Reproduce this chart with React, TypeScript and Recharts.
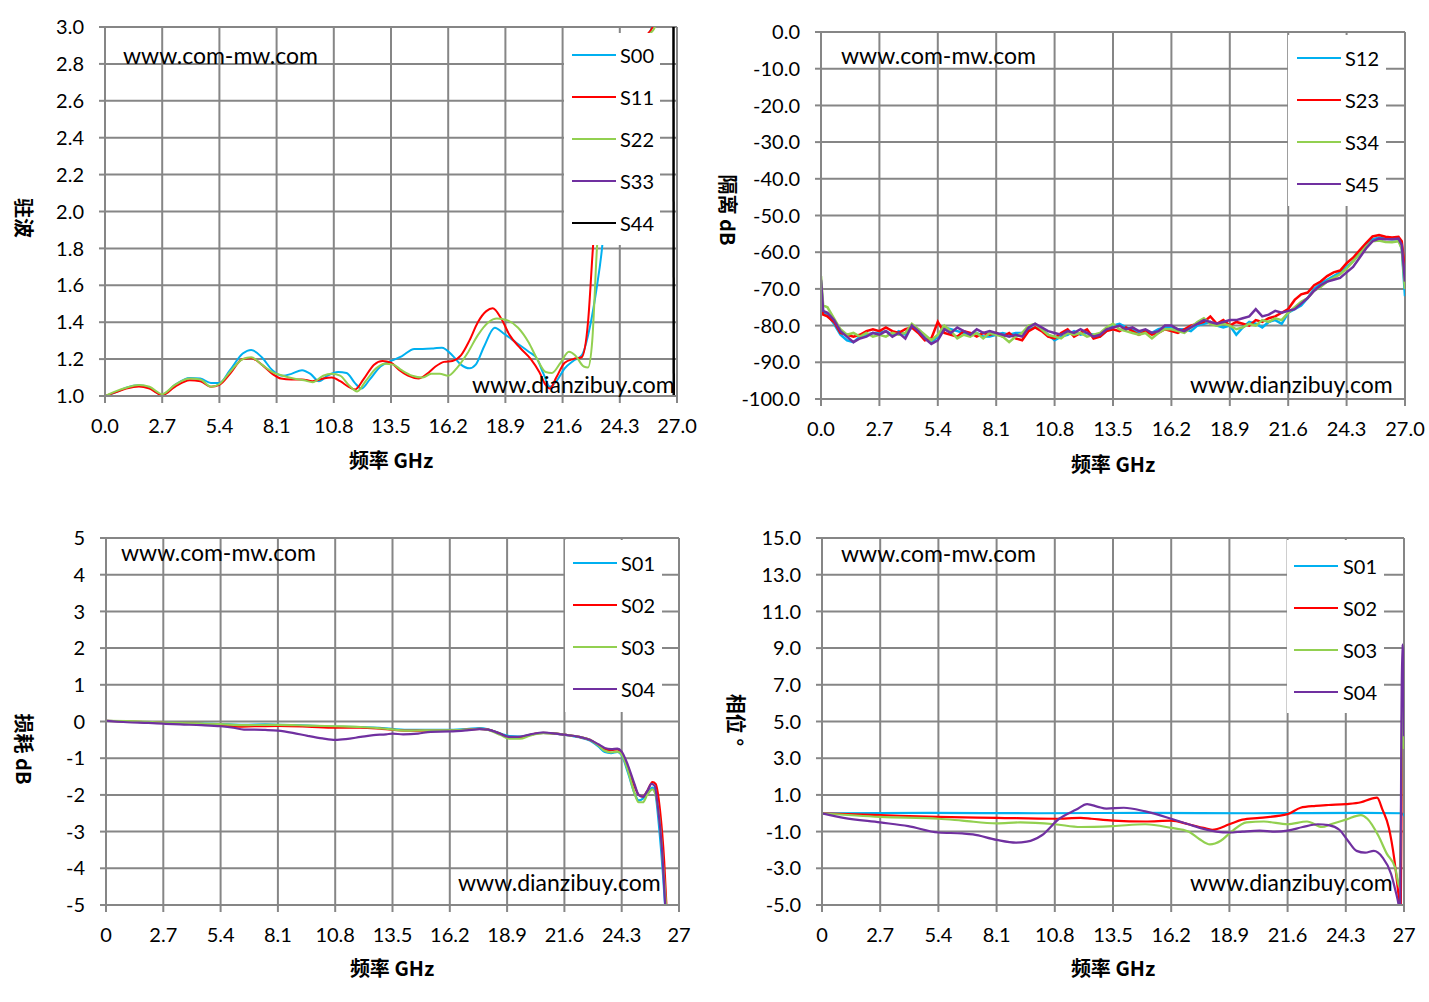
import React from 'react';
import { LineChart, Line, XAxis, YAxis, CartesianGrid, Legend } from 'recharts';

const FONT = 'Lato, "Noto Sans", sans-serif';
const CJK = '"Noto Sans CJK SC", Lato, sans-serif';
const GRID = '#868686';

const BLUE = '#00B0F0';
const RED = '#FF0000';
const GREEN = '#92D050';
const PURPLE = '#7030A0';
const BLACK = '#000000';

// axis ticks
const freqTicks = [0, 2.7, 5.4, 8.1, 10.8, 13.5, 16.2, 18.9, 21.6, 24.3, 27];
const vswrTicks = [1.0, 1.2, 1.4, 1.6, 1.8, 2.0, 2.2, 2.4, 2.6, 2.8, 3.0];
const isoTicks = [-100, -90, -80, -70, -60, -50, -40, -30, -20, -10, 0];
const lossTicks = [-5, -4, -3, -2, -1, 0, 1, 2, 3, 4, 5];
const phaseTicks = [-5, -3, -1, 1, 3, 5, 7, 9, 11, 13, 15];

// panel 1: VSWR, [GHz, value]
const vswrS00 = [[0, 1.0], [0.5, 1.02], [1.0, 1.045], [1.6, 1.058], [2.1, 1.045], [2.7, 1.005], [3.3, 1.06], [4.0, 1.098], [4.5, 1.095], [5.0, 1.07], [5.4, 1.07], [5.9, 1.14], [6.5, 1.23], [6.9, 1.25], [7.4, 1.21], [7.9, 1.14], [8.4, 1.11], [8.8, 1.12], [9.3, 1.14], [9.7, 1.12], [10.1, 1.08], [10.5, 1.11], [11.0, 1.13], [11.4, 1.125], [11.8, 1.07], [12.1, 1.04], [12.5, 1.09], [13.0, 1.16], [13.5, 1.19], [14.0, 1.215], [14.6, 1.255], [15.0, 1.255], [15.5, 1.258], [15.9, 1.262], [16.4, 1.22], [16.8, 1.17], [17.2, 1.15], [17.5, 1.17], [17.9, 1.27], [18.4, 1.37], [18.8, 1.34], [19.4, 1.29], [20.0, 1.24], [20.4, 1.2], [20.7, 1.12], [21.0, 1.05], [21.3, 1.08], [21.7, 1.15], [22.1, 1.19], [22.5, 1.22], [22.9, 1.38], [23.2, 1.58], [23.46, 1.8], [23.8, 2.3], [24.3, 2.65], [25.0, 2.85], [25.5, 2.94], [25.82, 3.0], [26.0, 3.5]];
const vswrS11 = [[0, 1.0], [0.5, 1.02], [1.0, 1.04], [1.6, 1.052], [2.1, 1.04], [2.7, 1.005], [3.3, 1.05], [4.0, 1.085], [4.5, 1.08], [5.0, 1.05], [5.4, 1.06], [5.9, 1.12], [6.5, 1.2], [6.9, 1.205], [7.4, 1.17], [7.9, 1.12], [8.3, 1.095], [8.8, 1.09], [9.3, 1.09], [9.8, 1.08], [10.3, 1.095], [10.7, 1.1], [11.1, 1.08], [11.5, 1.05], [11.8, 1.035], [12.2, 1.09], [12.7, 1.17], [13.1, 1.19], [13.5, 1.18], [13.9, 1.14], [14.3, 1.11], [14.8, 1.095], [15.2, 1.12], [15.6, 1.16], [16.0, 1.185], [16.4, 1.19], [16.8, 1.22], [17.2, 1.3], [17.6, 1.4], [18.0, 1.46], [18.3, 1.475], [18.7, 1.42], [19.1, 1.33], [19.6, 1.26], [20.1, 1.2], [20.5, 1.13], [20.8, 1.06], [21.0, 1.04], [21.3, 1.1], [21.7, 1.18], [22.1, 1.2], [22.5, 1.21], [22.8, 1.4], [23.03, 1.8], [23.4, 2.35], [24.0, 2.68], [24.8, 2.86], [25.5, 2.95], [25.85, 3.0], [26.0, 3.5]];
const vswrS22 = [[0, 1.0], [0.5, 1.025], [1.0, 1.045], [1.6, 1.06], [2.1, 1.05], [2.7, 1.01], [3.3, 1.06], [4.0, 1.095], [4.5, 1.09], [5.0, 1.05], [5.4, 1.065], [5.9, 1.13], [6.5, 1.2], [6.9, 1.21], [7.4, 1.17], [7.9, 1.13], [8.4, 1.11], [8.9, 1.095], [9.4, 1.085], [9.8, 1.075], [10.3, 1.11], [10.7, 1.12], [11.1, 1.11], [11.5, 1.06], [11.9, 1.025], [12.3, 1.08], [12.8, 1.15], [13.2, 1.175], [13.6, 1.17], [14.0, 1.14], [14.5, 1.11], [15.0, 1.1], [15.4, 1.12], [15.8, 1.12], [16.2, 1.11], [16.6, 1.15], [17.1, 1.23], [17.6, 1.33], [18.1, 1.4], [18.5, 1.42], [19.0, 1.41], [19.5, 1.37], [20.0, 1.29], [20.4, 1.2], [20.8, 1.13], [21.1, 1.125], [21.5, 1.18], [21.9, 1.24], [22.2, 1.22], [22.6, 1.16], [22.8, 1.155], [23.0, 1.3], [23.22, 1.8], [23.6, 2.33], [24.2, 2.66], [25.0, 2.86], [25.6, 2.95], [25.96, 3.0], [26.1, 3.5]];
const vswrS33: number[][] = [];
const vswrS44 = [[26.83, 3.6], [26.85, 0.4]];

// panel 2: isolation dB, shared frequency grid
const isoFreq = [0, 0.1, 0.3, 0.6, 0.9, 1.2, 1.5, 1.8, 2.1, 2.4, 2.7, 3.0, 3.3, 3.6, 3.9, 4.2, 4.5, 4.8, 5.1, 5.4, 5.7, 6.0, 6.3, 6.6, 6.9, 7.2, 7.5, 7.8, 8.1, 8.4, 8.7, 9.0, 9.3, 9.6, 9.9, 10.2, 10.5, 10.8, 11.1, 11.4, 11.7, 12.0, 12.3, 12.6, 12.9, 13.2, 13.5, 13.8, 14.1, 14.4, 14.7, 15.0, 15.3, 15.6, 15.9, 16.2, 16.5, 16.8, 17.1, 17.4, 17.7, 18.0, 18.3, 18.6, 18.9, 19.2, 19.5, 19.8, 20.1, 20.4, 20.7, 21.0, 21.3, 21.6, 21.9, 22.2, 22.5, 22.8, 23.1, 23.4, 23.7, 24.0, 24.3, 24.6, 24.9, 25.2, 25.5, 25.8, 26.1, 26.4, 26.7, 26.85, 27.0];
const isoS12 = [-68, -76.5, -77, -79.5, -82.5, -84, -84.5, -83, -82.5, -82, -82, -81.5, -82.5, -81.5, -82.5, -80.5, -81, -83, -84.5, -83, -80.5, -81, -81.5, -82, -82.5, -82, -83, -83, -82.5, -82, -82.5, -82, -82, -81, -80.5, -81, -82.5, -84, -83, -82.5, -81.5, -82.5, -82, -82.5, -83, -81.5, -80, -79.5, -80.5, -81, -82, -81.5, -82, -81, -80.5, -80.5, -81, -81, -81.5, -80, -79.5, -79, -80, -80.5, -80, -82.5, -80.5, -79, -79.5, -80.5, -79, -78.5, -79.5, -76.5, -75.5, -74.5, -72.5, -70, -68.5, -67.5, -66.5, -65.5, -64, -62.5, -60, -58, -56.5, -56, -56.3, -56.5, -56.4, -59, -72];
const isoS23 = [-70, -77, -77.5, -79, -82, -82.5, -83, -82.5, -81.5, -81, -81.5, -80.5, -81.5, -82, -81, -80.5, -82, -84, -83.5, -79, -82, -82.5, -83, -81.5, -82, -83, -82, -82.5, -82, -83, -82, -83.5, -84, -81.5, -80.5, -81.5, -83, -83.5, -82, -81, -83, -82, -81, -83.5, -83, -81.5, -81, -81.5, -80.5, -81.5, -82.5, -81.5, -82.5, -82, -81, -81.5, -82, -81, -80, -79.5, -79, -77.5, -79.5, -78.5, -80, -79, -79.5, -80, -78.5, -79, -78, -77.5, -76.5, -75.5, -73, -71.5, -71, -69, -68, -66.5, -65.5, -65, -63, -61.5, -59.5, -57.5, -55.7, -55.3, -55.8, -56, -55.8, -57, -65];
const isoS34 = [-66.5, -74.5, -75, -78, -81, -82.5, -82, -83, -82, -83, -82.5, -83, -82, -82.5, -82, -79.5, -81, -82.5, -84, -82.5, -80, -81.5, -83.5, -82.5, -83, -82, -83.5, -82, -82.5, -83, -84.5, -83, -82, -80, -79.5, -81, -82.5, -83, -83.5, -82, -82.5, -82, -83, -82.5, -82, -80.5, -79.5, -81, -81.5, -82, -82.5, -82, -83.5, -82, -81, -81, -81.5, -82, -80.5, -79, -78, -79.5, -80, -79.5, -80, -81, -80.5, -79.5, -80, -78.5, -79, -78, -78.5, -76.5, -75, -73.5, -72.5, -70.5, -69.5, -68, -67, -66, -64.5, -62.5, -60.5, -58.5, -57, -56.8, -57.2, -57.3, -57, -59, -70];
const isoS45 = [-67.5, -76, -76.5, -78.5, -81.5, -83, -84.5, -83.5, -83, -82, -82.5, -81.5, -83, -82, -83.5, -80, -81.5, -83.5, -85, -84, -81, -82, -80.5, -81.5, -82.5, -81, -82, -81.5, -82, -82.5, -83, -82.5, -83, -80.5, -79.5, -80.5, -81.5, -82, -82.5, -81.5, -82, -81, -82, -83, -82.5, -81, -80.5, -80, -81, -80.5, -81.5, -81, -82, -81.5, -80, -80, -81, -81.5, -80.5, -79.5, -78.5, -79, -79.5, -79, -78.5, -78.5, -78, -77.5, -75.5, -77.5, -77, -76, -76.5, -76, -75.5, -74, -72.5, -70.5, -69, -68, -67.5, -67, -65.5, -64, -61.5, -59, -57, -56.3, -56.5, -56.5, -56.3, -58, -68];

// panel 3: insertion loss dB
const lossS01 = [[0, 0.02], [1.0, 0], [2.7, -0.04], [4.0, -0.05], [5.4, -0.07], [6.5, -0.09], [7.5, -0.08], [8.1, -0.09], [9.5, -0.11], [10.8, -0.14], [12.0, -0.15], [13.0, -0.18], [14.2, -0.23], [15.0, -0.23], [16.2, -0.23], [17.0, -0.21], [17.6, -0.18], [18.0, -0.21], [18.6, -0.33], [19.0, -0.4], [19.5, -0.41], [20.0, -0.36], [20.6, -0.31], [21.2, -0.33], [21.6, -0.36], [22.3, -0.43], [22.8, -0.52], [23.2, -0.68], [23.5, -0.83], [23.8, -0.86], [24.1, -0.83], [24.3, -0.92], [24.6, -1.4], [24.9, -1.95], [25.1, -2.15], [25.3, -2.1], [25.5, -1.95], [25.75, -1.8], [25.9, -2.0], [26.05, -2.8], [26.25, -4.2], [26.4, -5.5]];
const lossS02 = [[0, 0.02], [1.0, 0], [2.7, -0.04], [4.0, -0.06], [5.4, -0.1], [6.2, -0.14], [7.0, -0.13], [8.1, -0.12], [9.5, -0.14], [10.8, -0.17], [12.0, -0.17], [13.0, -0.2], [14.2, -0.25], [15.0, -0.25], [16.2, -0.25], [17.0, -0.22], [17.6, -0.2], [18.0, -0.22], [18.6, -0.34], [19.0, -0.43], [19.5, -0.43], [20.0, -0.36], [20.6, -0.31], [21.2, -0.33], [21.6, -0.36], [22.3, -0.42], [22.8, -0.5], [23.2, -0.64], [23.5, -0.76], [23.8, -0.78], [24.1, -0.76], [24.3, -0.85], [24.6, -1.25], [24.9, -1.75], [25.1, -2.0], [25.3, -2.05], [25.5, -1.9], [25.75, -1.65], [25.9, -1.7], [26.1, -2.4], [26.3, -3.8], [26.45, -5.5]];
const lossS03 = [[0, 0.02], [1.0, 0.01], [2.7, -0.03], [4.0, -0.05], [5.4, -0.07], [6.5, -0.1], [7.5, -0.09], [8.1, -0.09], [9.5, -0.11], [10.8, -0.13], [12.0, -0.15], [13.0, -0.19], [14.2, -0.25], [15.0, -0.24], [16.2, -0.24], [17.0, -0.22], [17.6, -0.2], [18.0, -0.23], [18.6, -0.37], [19.0, -0.47], [19.5, -0.47], [20.0, -0.38], [20.6, -0.32], [21.2, -0.33], [21.6, -0.36], [22.3, -0.42], [22.8, -0.5], [23.2, -0.65], [23.5, -0.8], [23.8, -0.84], [24.1, -0.82], [24.3, -0.9], [24.6, -1.35], [24.9, -1.95], [25.1, -2.2], [25.3, -2.2], [25.5, -2.0], [25.75, -1.85], [25.9, -2.0], [26.1, -2.8], [26.3, -4.3], [26.45, -5.5]];
const lossS04 = [[0, 0.02], [1.0, -0.02], [2.0, -0.04], [2.7, -0.06], [3.5, -0.08], [4.5, -0.1], [5.4, -0.13], [6.0, -0.17], [6.5, -0.22], [7.0, -0.22], [7.5, -0.23], [8.1, -0.25], [8.8, -0.31], [9.5, -0.39], [10.2, -0.46], [10.8, -0.5], [11.3, -0.48], [12.0, -0.42], [12.6, -0.37], [13.2, -0.35], [13.5, -0.33], [14.0, -0.35], [14.7, -0.33], [15.3, -0.28], [16.2, -0.27], [17.0, -0.24], [17.6, -0.21], [18.0, -0.22], [18.5, -0.32], [19.0, -0.42], [19.4, -0.42], [20.0, -0.35], [20.6, -0.3], [21.2, -0.33], [21.6, -0.36], [22.3, -0.42], [22.8, -0.5], [23.2, -0.62], [23.5, -0.72], [23.8, -0.75], [24.1, -0.74], [24.3, -0.82], [24.6, -1.2], [24.9, -1.7], [25.1, -2.0], [25.3, -2.05], [25.5, -1.9], [25.7, -1.7], [25.85, -1.75], [26.0, -2.3], [26.2, -3.5], [26.35, -5.0], [26.45, -6.0]];

// panel 4: phase degrees
const phaseS01 = [[0, 0], [5.0, 0.02], [10.0, 0], [15.0, 0.02], [20.0, 0], [25.0, 0.02], [26.9, 0], [27.0, -0.15]];
const phaseS02 = [[0, 0], [2.7, -0.1], [5.4, -0.2], [8.1, -0.25], [10.8, -0.3], [12.0, -0.25], [12.5, -0.3], [13.5, -0.4], [15.0, -0.45], [16.2, -0.4], [17.0, -0.6], [17.7, -0.8], [18.1, -0.9], [18.9, -0.6], [19.5, -0.35], [20.3, -0.25], [21.6, -0.05], [22.2, 0.3], [22.9, 0.4], [23.5, 0.45], [24.3, 0.5], [25.0, 0.6], [25.5, 0.8], [25.75, 0.85], [26.0, 0.2], [26.3, -0.8], [26.55, -2.5], [26.75, -4.5], [26.85, -5.5], [26.9, 3.0], [26.95, 8.2], [27.0, 6.0]];
const phaseS03 = [[0, 0], [2.7, -0.2], [5.4, -0.3], [6.5, -0.4], [8.1, -0.55], [9.2, -0.5], [10.8, -0.6], [12.0, -0.75], [13.5, -0.7], [15.0, -0.6], [16.2, -0.8], [17.0, -1.0], [17.5, -1.4], [18.0, -1.7], [18.5, -1.5], [19.0, -1.0], [19.7, -0.5], [20.5, -0.45], [21.6, -0.6], [22.5, -0.45], [23.2, -0.75], [23.6, -0.6], [24.3, -0.35], [25.0, -0.1], [25.3, -0.3], [25.8, -1.2], [26.2, -2.2], [26.6, -3.0], [26.78, -4.0], [26.86, 0], [26.93, 6.2], [27.0, 3.5]];
const phaseS04 = [[0, 0], [1.0, -0.25], [2.7, -0.5], [4.0, -0.7], [5.4, -1.05], [6.5, -1.1], [7.0, -1.15], [8.1, -1.45], [9.0, -1.6], [9.5, -1.55], [10.2, -1.2], [11.0, -0.3], [11.8, 0.2], [12.3, 0.5], [12.8, 0.35], [13.2, 0.25], [14.0, 0.3], [15.0, 0.1], [16.2, -0.3], [17.0, -0.6], [17.7, -0.85], [18.3, -1.0], [18.9, -1.05], [19.5, -1.0], [20.3, -0.95], [21.0, -1.0], [21.6, -0.95], [22.3, -0.75], [23.0, -0.6], [23.5, -0.65], [24.0, -0.9], [24.4, -1.5], [24.8, -2.05], [25.2, -2.15], [25.6, -2.05], [26.0, -2.4], [26.4, -3.3], [26.6, -4.2], [26.75, -5.0], [26.82, -5.6], [26.88, 5.0], [26.92, 9.2], [26.97, 8.5], [27.0, 4.2]];

type Pair = number[];
const pts = (pairs: Pair[]) => pairs.map(([f, v]) => ({ f, v }));

const isoTable = isoFreq.map((f, i) => ({ f, S12: isoS12[i], S23: isoS23[i], S34: isoS34[i], S45: isoS45[i] }));

const tickStyle = { fill: '#000', fontSize: 20, fontFamily: FONT };
const one = (v: number) => v.toFixed(1);
const plain = (v: number) => String(v);

interface LegendCfg {
  left: number; top: number; width: number; height: number;
  firstY: number; lineX0: number; lineX1: number; textX: number;
  names: string[]; colors: string[];
}

const LegendBox = ({ cfg }: { cfg: LegendCfg }) => (
  <div style={{ position: 'relative', width: cfg.width, height: cfg.height, background: '#fff' }}>
    {cfg.names.map((n, i) => (
      <div key={n} style={{ position: 'absolute', left: 0, top: cfg.firstY + i * 42 - 12, width: cfg.width, height: 24 }}>
        <div style={{ position: 'absolute', left: cfg.lineX0, width: cfg.lineX1 - cfg.lineX0, top: 11, height: 2, background: cfg.colors[i] }} />
        <span style={{ position: 'absolute', left: cfg.textX, top: 0, lineHeight: '24px', fontSize: 20, fontFamily: FONT, color: '#000' }}>{n}</span>
      </div>
    ))}
  </div>
);

interface SeriesSpec { name: string; color: string; data?: { f: number; v: number }[]; width?: number; type?: 'monotone' | 'linear' }

interface PanelProps {
  left: number; top: number; width: number; height: number;
  margin: { top: number; right: number; bottom: number; left: number };
  yDomain: [number, number]; yTicks: number[]; yFmt: (v: number) => string; xFmt: (v: number) => string;
  table?: any[]; series: SeriesSpec[]; legend: LegendCfg;
}

const Panel = ({ left, top, width, height, margin, yDomain, yTicks, yFmt, xFmt, table, series, legend }: PanelProps) => (
  <div style={{ position: 'absolute', left, top }}>
    <LineChart width={width} height={height} margin={margin} data={table}>
      <CartesianGrid stroke={GRID} strokeWidth={2} />
      <XAxis
        type="number" dataKey="f" domain={[0, 27]} ticks={freqTicks} interval={0} tickFormatter={xFmt}
        allowDataOverflow height={40} tick={tickStyle} tickSize={7} tickMargin={16}
        axisLine={{ stroke: GRID, strokeWidth: 2 }} tickLine={{ stroke: GRID, strokeWidth: 2 }}
      />
      <YAxis
        type="number" domain={yDomain} ticks={yTicks} interval={0} tickFormatter={yFmt}
        allowDataOverflow width={60} tick={tickStyle} tickSize={6} tickMargin={15}
        axisLine={{ stroke: GRID, strokeWidth: 2 }} tickLine={{ stroke: GRID, strokeWidth: 2 }}
      />
      {series.map(s => (
        <Line
          key={s.name} name={s.name} data={s.data} dataKey={s.data ? 'v' : s.name}
          type={s.type || 'monotone'} stroke={s.color} strokeWidth={s.width || 2}
          dot={false} activeDot={false} isAnimationActive={false} connectNulls
        />
      ))}
      <Legend
        layout="vertical" align="center" verticalAlign="middle"
        wrapperStyle={{ left: legend.left, top: legend.top, width: legend.width, height: legend.height }}
        content={() => <LegendBox cfg={legend} />}
      />
    </LineChart>
  </div>
);

const Mark = ({ x, cy, text }: { x: number; cy: number; text: string }) => (
  <div style={{ position: 'absolute', left: x, top: cy - 17, fontSize: 23, lineHeight: '28px', fontFamily: FONT, color: '#000', whiteSpace: 'nowrap' }}>{text}</div>
);

const Title = ({ cx, cy, text, rotate }: { cx: number; cy: number; text: string; rotate?: boolean }) => (
  <div style={{
    position: 'absolute', left: cx, top: cy, transform: `translate(-50%, -50%)${rotate ? ' rotate(90deg)' : ''}`,
    fontSize: 20, lineHeight: 1, fontWeight: 700, fontFamily: CJK, color: '#000', whiteSpace: 'nowrap',
  }}>{text}</div>
);

export default function App() {
  return (
    <div style={{ position: 'absolute', left: 0, top: 0, width: 1429, height: 1002, background: '#fff', overflow: 'hidden' }}>
      <Panel
        left={0} top={0} width={714} height={490}
        margin={{ top: 27, right: 37, bottom: 54, left: 45 }}
        yDomain={[1, 3]} yTicks={vswrTicks} yFmt={one} xFmt={one}
        series={[
          { name: 'S00', color: BLUE, data: pts(vswrS00) },
          { name: 'S11', color: RED, data: pts(vswrS11) },
          { name: 'S22', color: GREEN, data: pts(vswrS22) },
          { name: 'S33', color: PURPLE, data: pts(vswrS33) },
          { name: 'S44', color: BLACK, data: pts(vswrS44), width: 2.5, type: 'linear' },
        ]}
        legend={{ left: 564, top: 33, width: 96, height: 212, firstY: 22, lineX0: 8, lineX1: 52, textX: 56, names: ['S00', 'S11', 'S22', 'S33', 'S44'], colors: [BLUE, RED, GREEN, PURPLE, BLACK] }}
      />
      <Panel
        left={714} top={0} width={715} height={490}
        margin={{ top: 32, right: 24, bottom: 51, left: 47 }}
        yDomain={[-100, 0]} yTicks={isoTicks} yFmt={one} xFmt={one}
        table={isoTable}
        series={[
          { name: 'S12', color: BLUE, type: 'linear', width: 2.5 },
          { name: 'S23', color: RED, type: 'linear', width: 2.5 },
          { name: 'S34', color: GREEN, type: 'linear', width: 2.5 },
          { name: 'S45', color: PURPLE, type: 'linear', width: 2.5 },
        ]}
        legend={{ left: 574, top: 35, width: 98, height: 171, firstY: 23, lineX0: 9, lineX1: 53, textX: 57, names: ['S12', 'S23', 'S34', 'S45'], colors: [BLUE, RED, GREEN, PURPLE] }}
      />
      <Panel
        left={0} top={490} width={714} height={512}
        margin={{ top: 48, right: 35, bottom: 57, left: 46 }}
        yDomain={[-5, 5]} yTicks={lossTicks} yFmt={plain} xFmt={plain}
        series={[
          { name: 'S01', color: BLUE, data: pts(lossS01), width: 2.2 },
          { name: 'S02', color: RED, data: pts(lossS02), width: 2.2 },
          { name: 'S03', color: GREEN, data: pts(lossS03), width: 2.2 },
          { name: 'S04', color: PURPLE, data: pts(lossS04), width: 2.2 },
        ]}
        legend={{ left: 565, top: 50, width: 97, height: 172, firstY: 23, lineX0: 8, lineX1: 52, textX: 56, names: ['S01', 'S02', 'S03', 'S04'], colors: [BLUE, RED, GREEN, PURPLE] }}
      />
      <Panel
        left={714} top={490} width={715} height={512}
        margin={{ top: 48, right: 25, bottom: 57, left: 48 }}
        yDomain={[-5, 15]} yTicks={phaseTicks} yFmt={one} xFmt={plain}
        series={[
          { name: 'S01', color: BLUE, data: pts(phaseS01), width: 2.2 },
          { name: 'S02', color: RED, data: pts(phaseS02), width: 2.2 },
          { name: 'S03', color: GREEN, data: pts(phaseS03), width: 2.2 },
          { name: 'S04', color: PURPLE, data: pts(phaseS04), width: 2.2 },
        ]}
        legend={{ left: 573, top: 50, width: 97, height: 173, firstY: 26, lineX0: 7, lineX1: 51, textX: 56, names: ['S01', 'S02', 'S03', 'S04'], colors: [BLUE, RED, GREEN, PURPLE] }}
      />

      <Mark x={123} cy={58} text="www.com-mw.com" />
      <Mark x={472} cy={387} text="www.dianzibuy.com" />
      <Mark x={841} cy={58} text="www.com-mw.com" />
      <Mark x={1190} cy={387} text="www.dianzibuy.com" />
      <Mark x={121} cy={555} text="www.com-mw.com" />
      <Mark x={458} cy={885} text="www.dianzibuy.com" />
      <Mark x={841} cy={556} text="www.com-mw.com" />
      <Mark x={1190} cy={885} text="www.dianzibuy.com" />

      <Title cx={391} cy={460} text="频率 GHz" />
      <Title cx={1113} cy={464} text="频率 GHz" />
      <Title cx={392} cy={968} text="频率 GHz" />
      <Title cx={1113} cy={968} text="频率 GHz" />
      <Title cx={24} cy={218} text="驻波" rotate />
      <Title cx={728} cy={210} text="隔离 dB" rotate />
      <Title cx={24} cy={749} text="损耗 dB" rotate />
      <Title cx={736} cy={720} text="相位 °" rotate />
    </div>
  );
}
